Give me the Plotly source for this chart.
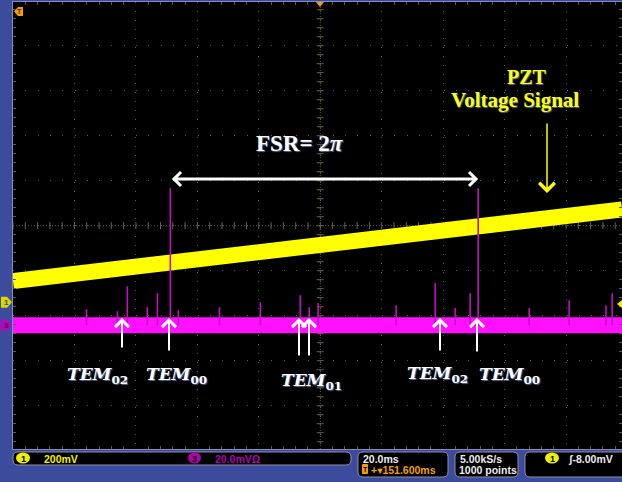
import plotly.graph_objects as go
import numpy as np

# ---------------- data ----------------
ms_per_div = 20.0            # horizontal scale
ch1_mv_per_div = 200.0       # channel 1 (PZT ramp)
ch3_mv_per_div = 20.0        # channel 3 (transmission)
ch1_offset_div = -1.70       # ground marker position (divisions from centre)
ch3_offset_div = -2.21
time_window_ms = [-100.0, 98.2]

ramp_t_ms = [-100.0, 98.2]   # PZT voltage ramp (band centre)
ramp_mv = [94.0, 412.0]

base_t_ms = [-100.0, 98.2]   # transmission baseline
base_mv = [0.0, 0.0]

spike_t_ms = [-76.1, -66.0, -62.8, -56.3, -53.0, -48.8, -46.2, -32.8, -19.5,
              -6.5, -3.6, -0.7, 24.7, 37.4, 43.9, 48.8, 51.4, 68.0, 81.0,
              93.0, 95.0]
spike_mv = [7.1, 6.2, 17.3, 8.0, 14.2, 60.9, 6.7, 8.0, 10.2,
            13.3, 8.0, 9.8, 8.9, 18.7, 7.6, 14.2, 60.9, 7.6, 11.1,
            8.9, 14.2]

fsr_t_ms = [-48.8, 51.4]     # the two TEM00 peaks
trigger_level_mv = -8.0

mode_labels = ["TEM<sub>02</sub>", "TEM<sub>00</sub>", "TEM<sub>01</sub>",
               "TEM<sub>02</sub>", "TEM<sub>00</sub>"]

# ---------------- layout geometry ----------------
W, H = 622, 482
ML, MR, MT, MB = 13, 0, 2, 33
PW = W - ML - MR
PH = H - MT - MB
div_range = [-4.962, 4.971]   # visible vertical divisions

def px(xp):
    return (xp - ML) / PW

def py(yp):
    return (MT + PH - yp) / PH

BLUE = "#3c4b9b"
YEL = "#ffff00"
MAG = "#ff10ff"

fig = go.Figure()

# graticule centre ticks
cx = np.arange(time_window_ms[0], time_window_ms[1] + 0.1, ms_per_div / 5)
cy_mv = -ch1_offset_div * ch1_mv_per_div
fig.add_trace(go.Scatter(x=cx, y=[cy_mv] * len(cx), mode="markers",
                         marker=dict(symbol="line-ns", size=5,
                                     line=dict(color="#6a6046", width=1)),
                         hoverinfo="skip", showlegend=False))
cyy = np.arange(cy_mv - 25 * ch1_mv_per_div / 5, cy_mv + 25 * ch1_mv_per_div / 5 + 1,
                ch1_mv_per_div / 5)
fig.add_trace(go.Scatter(x=[0] * len(cyy), y=cyy, mode="markers",
                         marker=dict(symbol="line-ew", size=5,
                                     line=dict(color="#6a6046", width=1)),
                         hoverinfo="skip", showlegend=False))

# PZT ramp
fig.add_trace(go.Scatter(x=ramp_t_ms, y=ramp_mv, mode="lines",
                         line=dict(color=YEL, width=16),
                         hoverinfo="skip", showlegend=False))
# transmission baseline
fig.add_trace(go.Scatter(x=base_t_ms, y=base_mv, mode="lines", yaxis="y2",
                         line=dict(color=MAG, width=16),
                         hoverinfo="skip", showlegend=False))
# spikes
sx, sy = [], []
for t, v in zip(spike_t_ms, spike_mv):
    sx += [t, t, None]
    sy += [0, v, None]
fig.add_trace(go.Scatter(x=sx, y=sy, mode="lines", yaxis="y2",
                         line=dict(color="#c010c0", width=1.6),
                         hoverinfo="skip", showlegend=False))

ch1_range = [(d - ch1_offset_div) * ch1_mv_per_div for d in div_range]
ch3_range = [(d - ch3_offset_div) * ch3_mv_per_div for d in div_range]

fig.update_layout(
    width=W, height=H,
    margin=dict(l=ML, r=MR, t=MT, b=MB),
    paper_bgcolor=BLUE, plot_bgcolor="black",
    xaxis=dict(range=time_window_ms, showticklabels=False, zeroline=False,
               showgrid=True, gridcolor="#5a5a5a", gridwidth=1, griddash="1px,8px",
               tick0=0, dtick=ms_per_div, ticks="",
               minor=dict(ticks="inside", ticklen=3, tickcolor="#5a5a5a",
                          dtick=ms_per_div / 5, tick0=0, showgrid=False),
               showline=True, linecolor="#7f8cc0", linewidth=1, mirror="ticks"),
    yaxis=dict(range=ch1_range, showticklabels=False, zeroline=False,
               showgrid=True, gridcolor="#5a5a5a", gridwidth=1, griddash="1px,11.3px",
               tick0=cy_mv, dtick=ch1_mv_per_div, ticks="",
               minor=dict(ticks="inside", ticklen=3, tickcolor="#5a5a5a",
                          dtick=ch1_mv_per_div / 5, tick0=cy_mv, showgrid=False),
               showline=True, linecolor="#7f8cc0", linewidth=1, mirror="ticks"),
    yaxis2=dict(range=ch3_range, overlaying="y", showticklabels=False,
                showgrid=False, zeroline=False, visible=False),
    showlegend=False,
)

shapes = []
# centre lines
shapes.append(dict(type="line", xref="x", yref="paper", x0=0, x1=0, y0=0, y1=1,
                   line=dict(color="#5e563e", width=1, dash="1px,2px"), layer="below"))
shapes.append(dict(type="line", xref="paper", yref="y", x0=0, x1=1, y0=cy_mv, y1=cy_mv,
                   line=dict(color="#5e563e", width=1, dash="1px,2px"), layer="below"))

def poly(points, **kw):
    p = "M " + " L ".join(f"{px(a):.5f},{py(b):.5f}" for a, b in points) + " Z"
    d = dict(type="path", xref="paper", yref="paper", path=p, layer="above")
    d.update(kw)
    return d

def rrect(x0, y0, x1, y1, r, **kw):
    P = lambda a, b: f"{px(a):.5f},{py(b):.5f}"
    p = (f"M {P(x0+r,y0)} L {P(x1-r,y0)} Q {P(x1,y0)} {P(x1,y0+r)} "
         f"L {P(x1,y1-r)} Q {P(x1,y1)} {P(x1-r,y1)} L {P(x0+r,y1)} "
         f"Q {P(x0,y1)} {P(x0,y1-r)} L {P(x0,y0+r)} Q {P(x0,y0)} {P(x0+r,y0)} Z")
    d = dict(type="path", xref="paper", yref="paper", path=p, layer="above")
    d.update(kw)
    return d

def ellipse(x0, y0, x1, y1, color):
    return dict(type="circle", xref="paper", yref="paper", x0=px(x0), x1=px(x1),
                y0=py(y1), y1=py(y0), fillcolor=color, line=dict(width=0), layer="above")

# status bar boxes
box_line = dict(color="#8c8fa8", width=1)
shapes.append(rrect(13, 452, 351, 465, 5, fillcolor="black", line=box_line))
shapes.append(rrect(358, 452, 448, 477, 5, fillcolor="black", line=box_line))
shapes.append(rrect(455, 452, 518, 477, 5, fillcolor="black", line=box_line))
shapes.append(rrect(525, 452, 640, 477, 5, fillcolor="black", line=box_line))
shapes.append(ellipse(16, 452.5, 30, 463.5, "#f0f000"))
shapes.append(ellipse(188, 452.5, 201, 463.5, "#b000b0"))
shapes.append(ellipse(545, 452.5, 559, 463.5, "#f0f000"))
shapes.append(rrect(362, 464, 368, 474, 1, fillcolor="#f0a000", line=dict(width=0)))

# channel ground markers on left bar
g1 = 2 + (div_range[1] - ch1_offset_div) * 45
g3 = 2 + (div_range[1] - ch3_offset_div) * 45
shapes.append(poly([(1, g1 - 5.5), (7, g1 - 5.5), (12, g1), (7, g1 + 5.5), (1, g1 + 5.5)],
                   fillcolor="#d8d800", line=dict(width=0)))
shapes.append(poly([(1, g3 - 5.5), (7, g3 - 5.5), (12, g3), (7, g3 + 5.5), (1, g3 + 5.5)],
                   fillcolor="#c000c0", line=dict(width=0)))
# trigger level marker on right edge
gt = g1 - trigger_level_mv / ch1_mv_per_div * 45
shapes.append(poly([(622, gt - 4), (617, gt), (622, gt + 4)],
                   fillcolor="#f0f000", line=dict(width=0)))
# trigger position markers (top)
shapes.append(poly([(316, 2), (324, 2), (320, 7)], fillcolor="#f0a000", line=dict(width=0)))
shapes.append(poly([(14, 11.5), (18, 7), (23, 7), (23, 16), (18, 16)],
                   fillcolor="#f0a000", line=dict(width=0)))
fig.update_layout(shapes=shapes)

ann = []
def text(xp, yp, s, color, size, family="Liberation Sans", weight="bold",
         xanchor="left", shadow=None, style="normal"):
    f = dict(family=family, size=size, color=color, weight=weight, style=style)
    if shadow:
        f["shadow"] = shadow
    ann.append(dict(xref="paper", yref="paper", x=px(xp), y=py(yp), text=s,
                    showarrow=False, xanchor=xanchor, yanchor="middle", font=f))

# status bar text
text(23, 458.5, "1", "black", 9, xanchor="center")
text(42, 458.5, "200mV", "#f0f000", 10.5)
text(194.5, 458.5, "3", "black", 9, xanchor="center")
text(213, 458.5, "20.0mVΩ", "#b000b0", 10.5)
text(361, 458.5, "20.0ms", "#ececec", 10.5)
text(365, 469.5, "T", "black", 7, xanchor="center")
text(369, 470, "+▾151.600ms", "#f0a000", 10.5, family="Liberation Sans, DejaVu Sans")
text(458, 458.5, "5.00kS/s", "#ececec", 10.5)
text(457, 470, "1000 points", "#ececec", 10.5)
text(552, 458.5, "1", "black", 9, xanchor="center")
text(566, 458.5, "ʃ-8.00mV", "#ececec", 10.5, family="Liberation Sans, DejaVu Sans")
text(6.5, g1, "1", "#404000", 8, xanchor="center")
text(6.5, g3, "3", "#400040", 8, xanchor="center")
text(19.5, 11.5, "T", "#402000", 7, xanchor="center")

# chart annotations
sh = "1px 1px 1px #5a6a90"
text(300, 143, "FSR= 2<i>π</i>", "white", 23, family="Liberation Serif",
     xanchor="center", shadow=sh)
text(527, 77, "PZT", "#ffff00", 20, family="Liberation Serif", xanchor="center", shadow=sh)
text(515, 100, "Voltage Signal", "#ffff00", 21, family="Liberation Serif",
     xanchor="center", shadow=sh)

label_x = [97, 176, 311, 437, 509]
label_y = [375, 375, 381, 374, 375]
for lx, ly, s in zip(label_x, label_y, mode_labels):
    text(lx, ly, f"<i>{s[:3]}</i>{s[3:]}", "white", 17, family="DejaVu Serif",
         xanchor="center", shadow=sh)

# white up arrows
arrow_x = [122, 169, 299, 309, 440, 477]
arrow_len = [31, 34, 39, 39, 34, 35]
for axp, L in zip(arrow_x, arrow_len):
    ann.append(dict(xref="paper", yref="paper", x=px(axp), y=py(318), ax=0, ay=L,
                    text="", showarrow=True, arrowhead=4, arrowsize=1.35,
                    arrowwidth=2, arrowcolor="white", standoff=0))

# FSR double arrow between the TEM00 peaks
fsr_y_mv = (g1 - 179) / 45 * ch1_mv_per_div
ann.append(dict(xref="x", yref="y", x=fsr_t_ms[1], y=fsr_y_mv,
                axref="x", ayref="y", ax=fsr_t_ms[0], ay=fsr_y_mv,
                text="", showarrow=True, arrowhead=4, startarrowhead=4,
                arrowside="end+start", arrowsize=0.9, startarrowsize=0.9,
                arrowwidth=3, arrowcolor="white", standoff=0, startstandoff=0))

# PZT arrow
ann.append(dict(xref="paper", yref="paper", x=px(547), y=py(193), ax=0, ay=-71,
                text="", showarrow=True, arrowhead=4, arrowsize=2.0,
                arrowwidth=1.5, arrowcolor="#ffff00", standoff=0))

fig.update_layout(annotations=ann)
fig.write_html("out.html")
